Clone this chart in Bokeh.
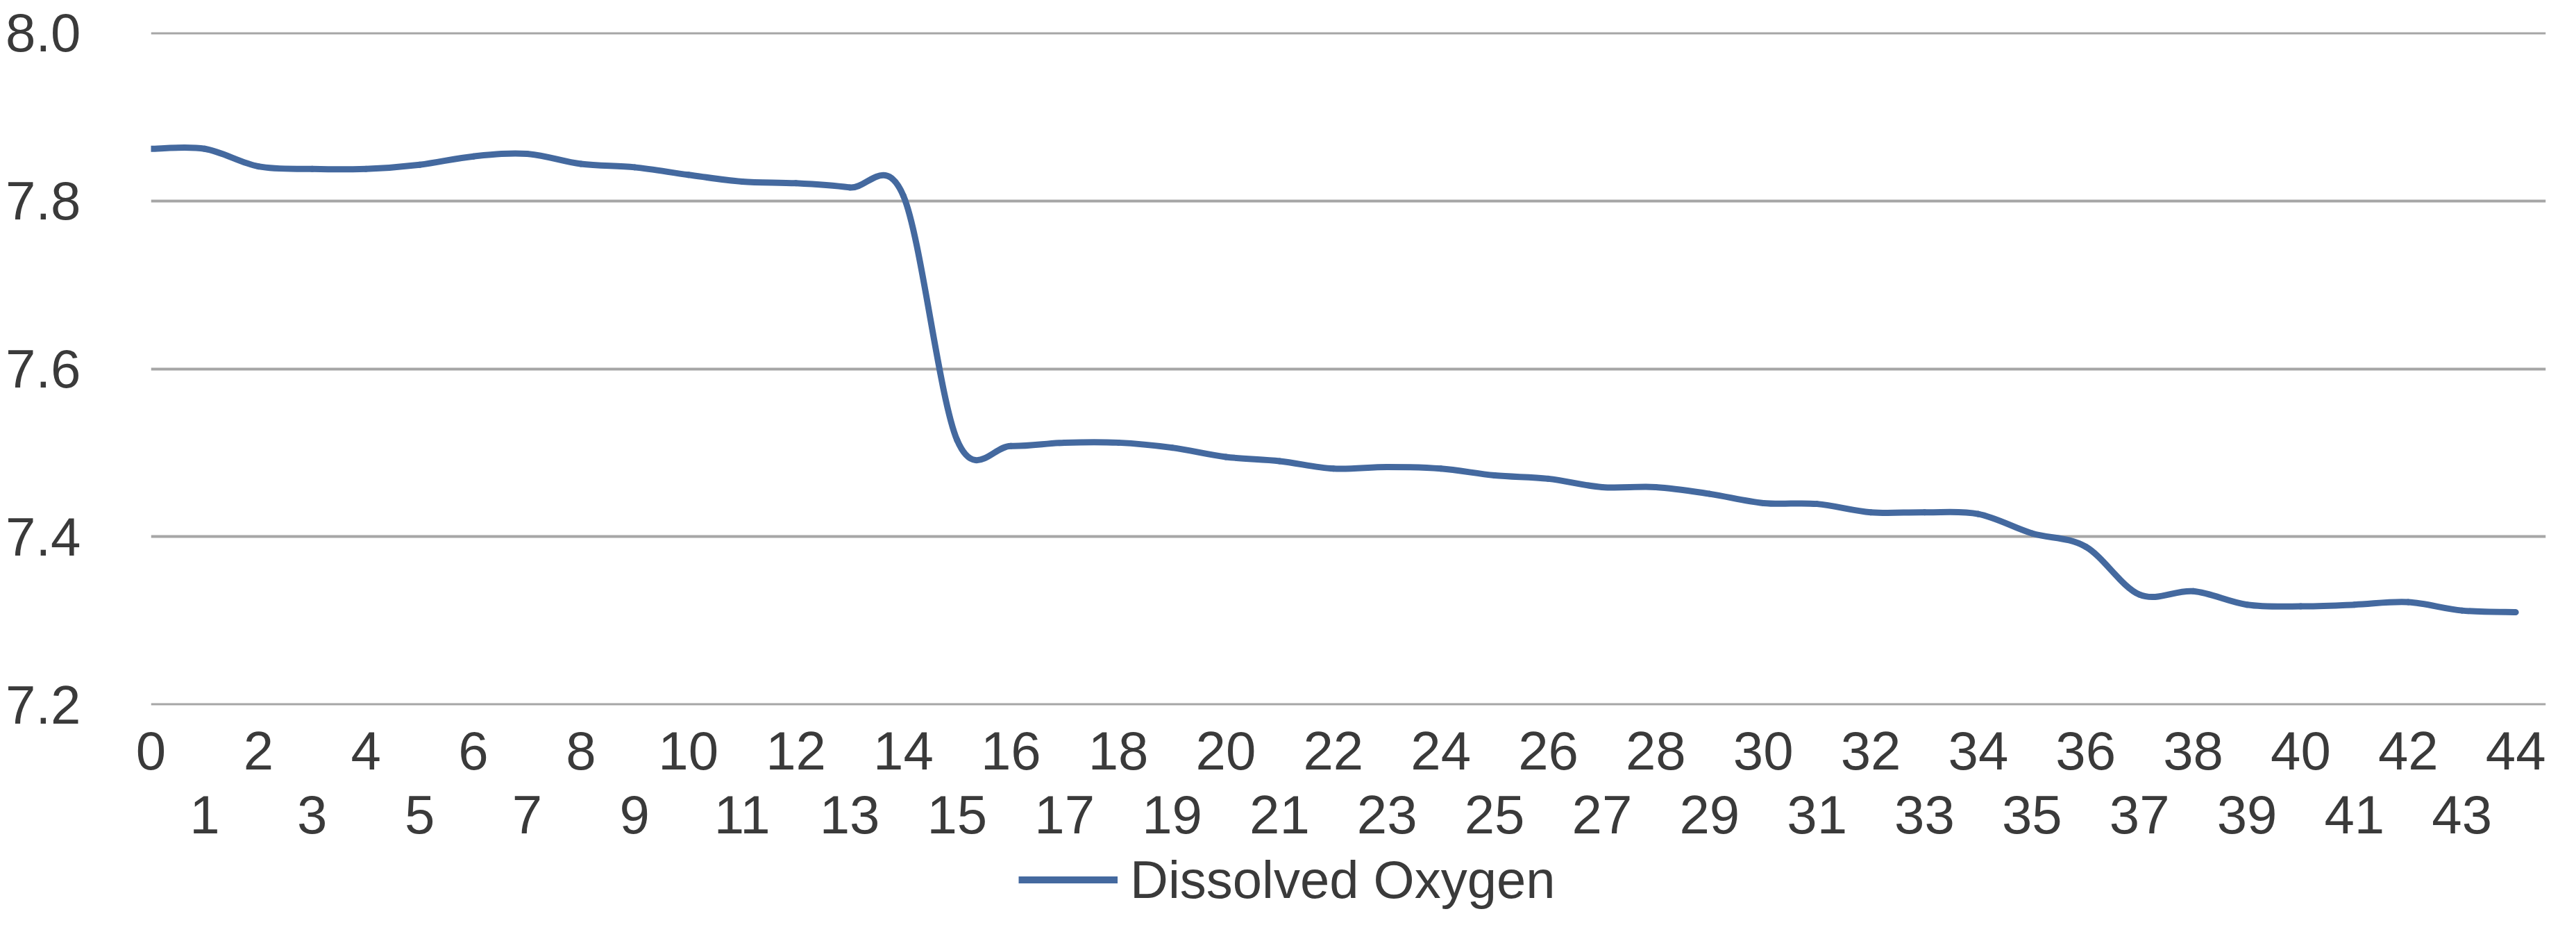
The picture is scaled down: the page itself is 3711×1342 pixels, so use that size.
import numpy as np
from bokeh.plotting import figure
from bokeh.layouts import column
from bokeh.models import (Range1d, FixedTicker, LinearAxis, Legend, LegendItem,
                          ColumnDataSource, NumeralTickFormatter)
from bokeh.embed import file_html
from bokeh.resources import INLINE

# ---------------- data ----------------
categories = list(range(45))
tick_labels = [str(c) for c in categories]
series_name = "Dissolved Oxygen"
oxygen = [7.862, 7.862, 7.841, 7.838, 7.838, 7.843, 7.853, 7.856, 7.844, 7.840,
          7.831, 7.823, 7.821, 7.816, 7.806, 7.515, 7.508, 7.512, 7.512, 7.506,
          7.495, 7.490, 7.481, 7.483, 7.481, 7.473, 7.469, 7.459, 7.459, 7.451,
          7.440, 7.439, 7.429, 7.429, 7.427, 7.404, 7.388, 7.331, 7.335, 7.319,
          7.317, 7.319, 7.322, 7.312, 7.310]
y_ticks = [7.2, 7.4, 7.6, 7.8, 8.0]

# ---------------- smoothed line (Catmull-Rom -> cubic Bezier) ----------------
x = np.array(categories, dtype=float)
y = np.array(oxygen, dtype=float)
n = len(x)
xp = np.r_[x[0], x, x[-1]]
yp = np.r_[y[0], y, y[-1]]
seg = ColumnDataSource(dict(
    x0=xp[1:n], y0=yp[1:n], x1=xp[2:n + 1], y1=yp[2:n + 1],
    cx0=xp[1:n] + (xp[2:n + 1] - xp[0:n - 1]) / 6.0,
    cy0=yp[1:n] + (yp[2:n + 1] - yp[0:n - 1]) / 6.0,
    cx1=xp[2:n + 1] - (xp[3:n + 2] - xp[1:n]) / 6.0,
    cy1=yp[2:n + 1] - (yp[3:n + 2] - yp[1:n]) / 6.0,
))

FONT = "Liberation Sans"
TXT = "#3a3a3a"
LINE = "#44699f"

p = figure(width=3695, height=1215,
           x_range=Range1d(0, 44.56), y_range=Range1d(7.1992, 8.0008),
           x_axis_type=None, output_backend="svg", toolbar_location=None,
           min_border_left=217, min_border_right=28,
           min_border_top=46, min_border_bottom=200)
p.outline_line_color = None
p.background_fill_color = "white"
p.border_fill_color = "white"

r = p.bezier(x0="x0", y0="y0", x1="x1", y1="y1", cx0="cx0", cy0="cy0",
             cx1="cx1", cy1="cy1", source=seg, line_color=LINE,
             line_width=9, line_cap="round")

# y axis
ya = p.yaxis[0]
ya.ticker = FixedTicker(ticks=y_ticks)
ya.formatter = NumeralTickFormatter(format="0.0")
ya.axis_line_color = None
ya.major_tick_line_color = None
ya.minor_tick_line_color = None
ya.major_label_standoff = 95
ya.major_label_text_font = FONT
ya.major_label_text_font_size = "78px"
ya.major_label_text_color = TXT

p.ygrid.ticker = FixedTicker(ticks=y_ticks)
p.ygrid.grid_line_color = "#a6a6a6"
p.ygrid.grid_line_width = 4

# two staggered rows of category labels
def cat_axis(ticks, standoff):
    ax = LinearAxis(ticker=FixedTicker(ticks=ticks),
                    major_label_overrides={c: tick_labels[c] for c in ticks})
    ax.axis_line_color = None
    ax.major_tick_line_color = None
    ax.minor_tick_line_color = None
    ax.major_tick_in = 0
    ax.major_tick_out = 0
    ax.major_label_standoff = standoff
    ax.major_label_text_font = FONT
    ax.major_label_text_font_size = "78px"
    ax.major_label_text_color = TXT
    return ax

p.add_layout(cat_axis(categories[0::2], 38), "below")
p.add_layout(cat_axis(categories[1::2], 35), "below")

# ---------------- legend strip below the chart ----------------
# (the key's series lies outside this strip's ranges, so only its legend sample shows)
q = figure(width=3695, height=102, x_range=Range1d(0, 1), y_range=Range1d(0, 1),
           x_axis_type=None, y_axis_type=None, output_backend="svg",
           toolbar_location=None, min_border=0)
q.outline_line_color = None
q.xgrid.visible = False
q.ygrid.visible = False
q.background_fill_color = "white"
q.border_fill_color = "white"
key = q.line(x=categories, y=oxygen, line_color=LINE, line_width=10)

legend = Legend(items=[LegendItem(label=series_name, renderers=[key])],
                location="center_left", orientation="horizontal",
                border_line_color=None, background_fill_alpha=0,
                padding=0, margin=1250, glyph_width=143, glyph_height=40,
                label_standoff=18, label_text_font=FONT,
                label_text_font_size="76px", label_text_color=TXT)
q.add_layout(legend, "center")

open("out.html", "w").write(file_html(column(p, q, spacing=0), INLINE))
